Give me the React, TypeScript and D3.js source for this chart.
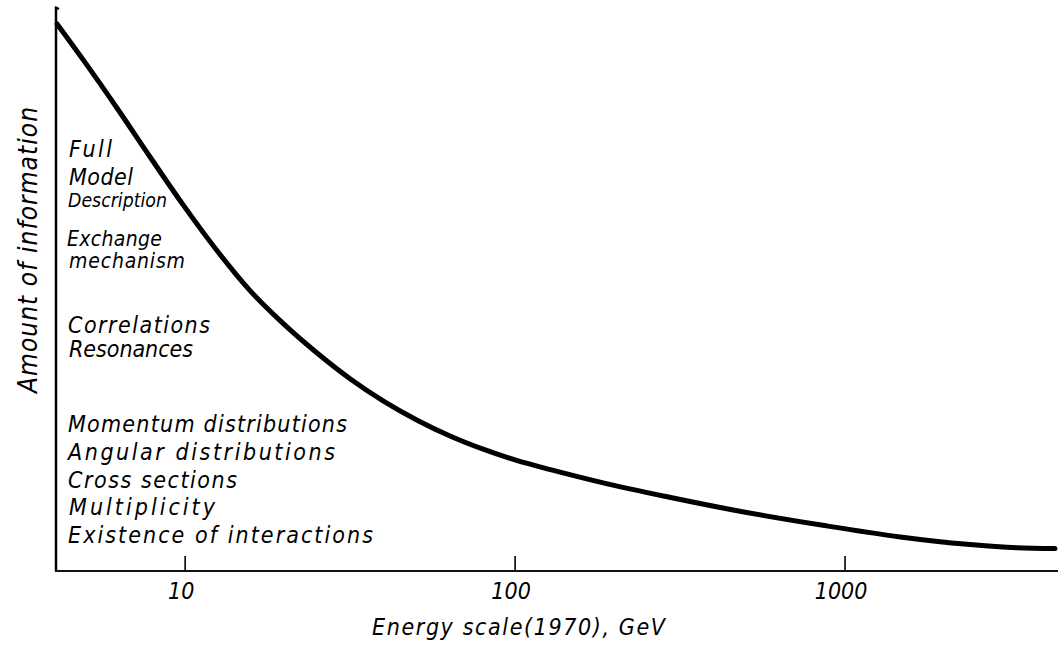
import React from "react";
import * as d3 from "d3";

// Energy (GeV, log scale) and the relative amount of information obtainable
const energyGeV = [
  4.09, 4.91, 6.22, 7.83, 9.86, 12.5, 15.7, 19.8, 25.1, 31.6, 39.8, 50.5, 63.5,
  80, 101, 128, 181, 289, 458, 857, 1470, 2344, 3320, 4330,
];
const information = [
  97.68, 91.27, 82.64, 73.93, 65.38, 57.18, 50.11, 44.21, 38.93, 34.34, 30.39,
  26.93, 24.11, 21.75, 19.75, 18.11, 15.88, 13.25, 10.89, 8.16, 6.09, 4.77, 4.14,
  4.0,
];

const xTicks = [10, 100, 1000];
const xTickLabels = ["10", "100", "1000"];

// Kinds of measurement, bottom-up with rising information content
const levelLabels = [
  "Full",
  "Model",
  "Description",
  "Exchange",
  "mechanism",
  "Correlations",
  "Resonances",
  "Momentum distributions",
  "Angular distributions",
  "Cross sections",
  "Multiplicity",
  "Existence of interactions",
];

const xTitle = "Energy scale(1970), GeV";
const yTitle = "Amount of information";

// Layout of the annotation block: [x, baseline y, text length, font size, squeeze glyphs]
const levelLayout: [number, number, number, number, boolean][] = [
  [69, 157, 43, 23, false],
  [69, 185, 64, 23, false],
  [68, 207, 99, 20, true],
  [67, 246, 95, 21, false],
  [69, 268, 116, 21, false],
  [68, 333, 142, 23, false],
  [69, 357, 124, 23, false],
  [68, 432, 279, 23, false],
  [68, 460, 267, 23, false],
  [68, 488, 169, 23, false],
  [69, 515, 146, 23, false],
  [68, 543, 305, 23, false],
];

const W = 1058;
const H = 649;
const FONT = "'DejaVu Sans Condensed', 'DejaVu Sans', sans-serif";

export default function App() {
  const x = d3.scaleLog().domain([4.06, 4420]).range([56, 1058]);
  const y = d3.scaleLinear().domain([0, 100]).range([571, 11]);

  const line = d3
    .line<number>()
    .x((_, i) => x(energyGeV[i]))
    .y((d) => y(d))
    .curve(d3.curveMonotoneX);

  const axisY = y(0);
  const axisX = x.range()[0];

  return (
    <svg
      width={W}
      height={H}
      viewBox={`0 0 ${W} ${H}`}
      style={{ position: "absolute", left: 0, top: 0, background: "#fff" }}
      fontFamily={FONT}
    >
      {/* information curve */}
      <path
        d={line(information) ?? ""}
        fill="none"
        stroke="#000"
        strokeWidth={5}
        strokeLinecap="round"
        strokeLinejoin="round"
      />

      {/* axes */}
      <line x1={axisX} y1={axisY} x2={axisX} y2={7} stroke="#000" strokeWidth={2.5} />
      <path d={`M${axisX - 1},7 L${axisX + 3},9`} stroke="#000" strokeWidth={2} fill="none" />
      <line x1={axisX - 1} y1={axisY} x2={W} y2={axisY} stroke="#111" strokeWidth={2} />

      {xTicks.map((t, i) => (
        <g key={t}>
          <line x1={x(t)} y1={axisY} x2={x(t)} y2={axisY - 15} stroke="#000" strokeWidth={1.6} />
          <text
            x={x(t) - 4}
            y={599}
            textAnchor="middle"
            fontSize={23}
            fontStyle="oblique"
          >
            {xTickLabels[i]}
          </text>
        </g>
      ))}

      <text
        x={372}
        y={635}
        fontSize={23}
        fontStyle="oblique"
        textLength={293}
        lengthAdjust="spacing"
      >
        {xTitle}
      </text>

      <text
        transform="translate(37,393) rotate(-90)"
        fontSize={26}
        fontStyle="oblique"
        textLength={286}
        lengthAdjust="spacing"
      >
        {yTitle}
      </text>

      {levelLabels.map((s, i) => {
        const [lx, ly, lw, fs, squeeze] = levelLayout[i];
        return (
          <text
            key={s}
            x={lx}
            y={ly}
            fontSize={fs}
            fontStyle="oblique"
            textLength={lw}
            lengthAdjust={squeeze ? "spacingAndGlyphs" : "spacing"}
          >
            {s}
          </text>
        );
      })}
    </svg>
  );
}
